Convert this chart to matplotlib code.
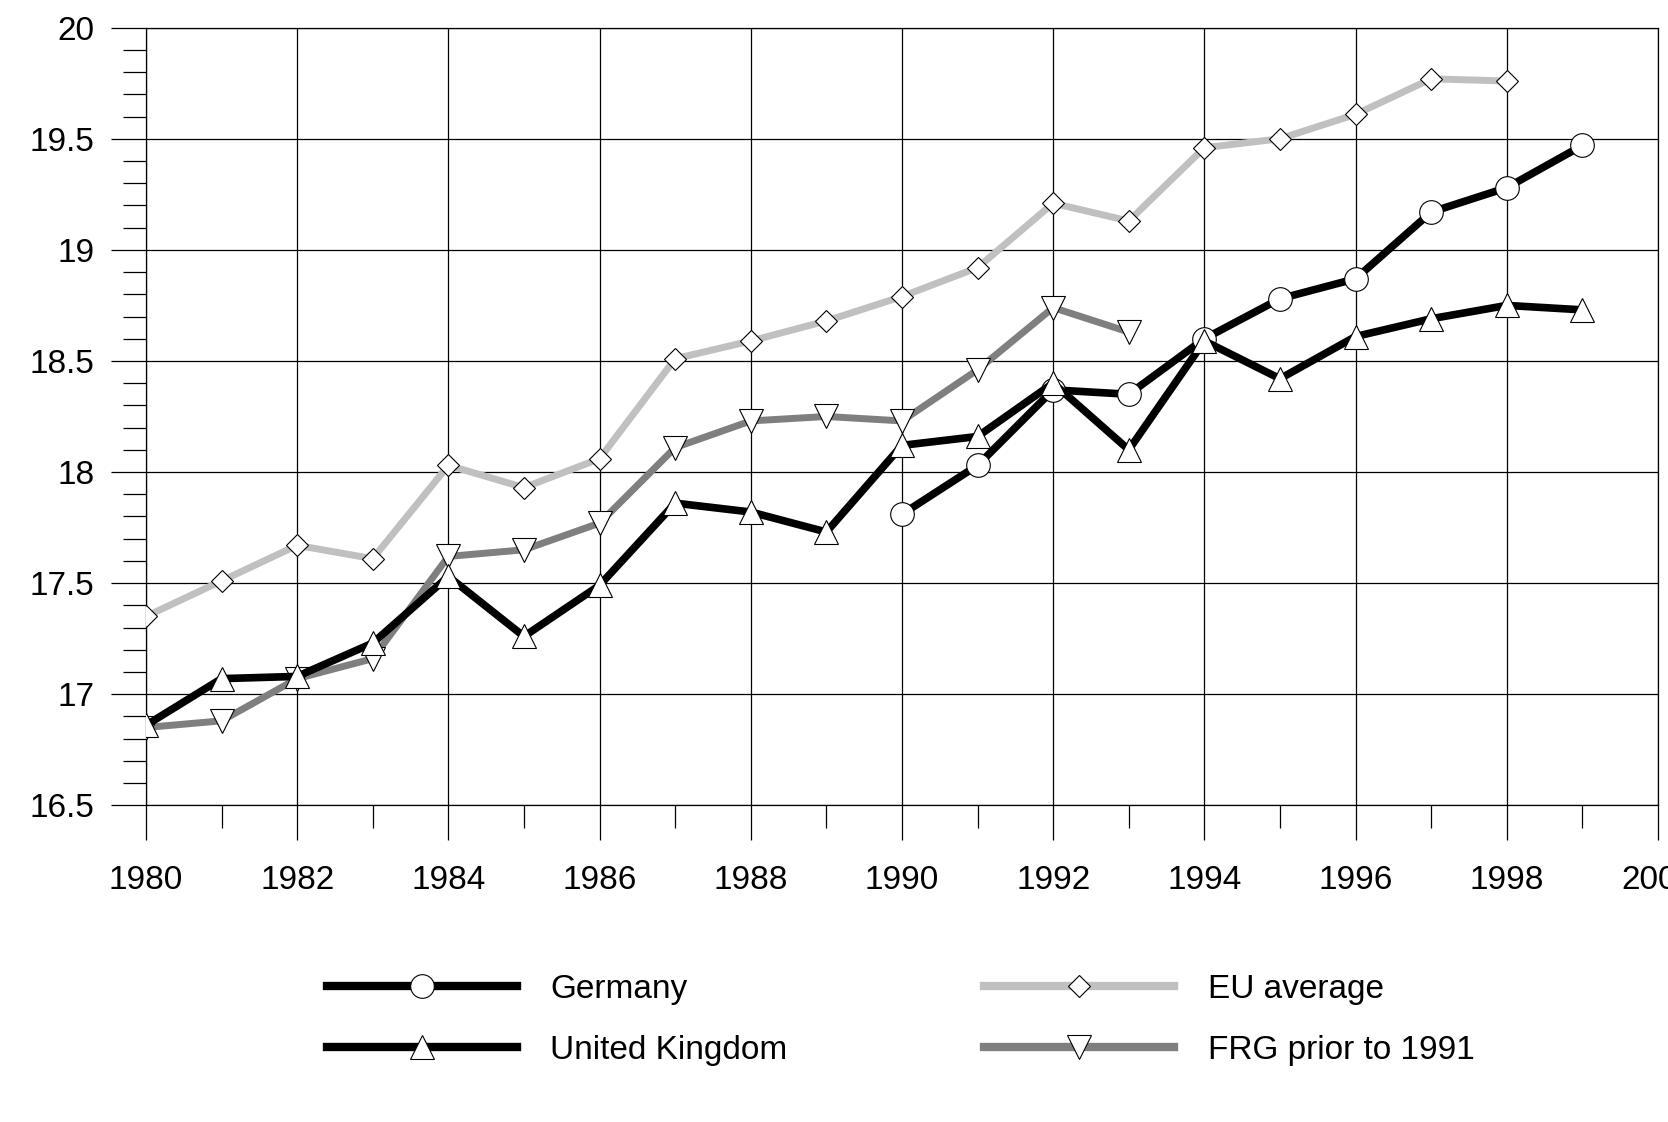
"""
Line chart: Germany, United Kingdom, EU average and FRG (1980-1999)
"""
import matplotlib
matplotlib.use("Agg")
import matplotlib.pyplot as plt
from matplotlib.ticker import MultipleLocator
from matplotlib.lines import Line2D

plt.rcParams["font.family"] = ["Liberation Sans", "DejaVu Sans"]

# data
years_germany = [1990, 1991, 1992, 1993, 1994, 1995, 1996, 1997, 1998, 1999]
germany = [17.81, 18.03, 18.37, 18.35, 18.60, 18.78, 18.87, 19.17, 19.28, 19.47]

years_uk = list(range(1980, 2000))
united_kingdom = [16.86, 17.07, 17.08, 17.23, 17.53, 17.26, 17.49, 17.86, 17.82, 17.73,
                  18.12, 18.16, 18.40, 18.10, 18.59, 18.42, 18.61, 18.69, 18.75, 18.73]

years_eu = list(range(1980, 1999))
eu_average = [17.35, 17.51, 17.67, 17.61, 18.03, 17.93, 18.06, 18.51, 18.59, 18.68,
              18.79, 18.92, 19.21, 19.13, 19.46, 19.50, 19.61, 19.77, 19.76]

years_frg = list(range(1980, 1994))
frg = [16.85, 16.88, 17.07, 17.16, 17.62, 17.65, 17.77, 18.11, 18.23, 18.25,
       18.23, 18.46, 18.74, 18.63]

labels = ["Germany", "United Kingdom", "EU average", "FRG prior to 1991"]

DPI = 100
fig = plt.figure(figsize=(16.68, 11.22), dpi=DPI)
ax = fig.add_axes([0.0875, 0.2823, 0.9065, 0.693])

marker_kw = dict(markerfacecolor="white", markeredgecolor="black", markeredgewidth=0.8)

# (color, linewidth, marker, markersize) per series
styles = {
    "Germany": ("black", 5.5, "o", 17),
    "United Kingdom": ("black", 5.5, "^", 17),
    "EU average": ("#c0c0c0", 5, "D", 11.5),
    "FRG prior to 1991": ("#7f7f7f", 5, "v", 17),
}

# draw order: EU, FRG, Germany, UK on top
for z, (name, xs, ys) in enumerate([
    ("EU average", years_eu, eu_average),
    ("FRG prior to 1991", years_frg, frg),
    ("Germany", years_germany, germany),
    ("United Kingdom", years_uk, united_kingdom),
]):
    color, lw, mk, ms = styles[name]
    ax.plot(xs, ys, color=color, lw=lw, marker=mk, markersize=ms, zorder=3 + z,
            **marker_kw)

ax.set_xlim(1980, 2000)
ax.set_ylim(16.5, 20)

ax.xaxis.set_major_locator(MultipleLocator(2))
ax.xaxis.set_minor_locator(MultipleLocator(1))
ax.yaxis.set_minor_locator(MultipleLocator(0.1))
ax.set_yticks([16.5, 17, 17.5, 18, 18.5, 19, 19.5, 20])
ax.set_yticklabels(["16.5", "17", "17.5", "18", "18.5", "19", "19.5", "20"])

ax.grid(True, which="major", color="black", lw=0.9)
ax.set_axisbelow(True)

ax.tick_params(axis="both", which="major", direction="out", length=25, width=0.9,
               labelsize=24, color="black")
ax.tick_params(axis="both", which="minor", direction="out", length=16.5, width=0.9)
ax.tick_params(axis="x", which="major", pad=18)
ax.tick_params(axis="y", which="major", pad=12)

for spine in ax.spines.values():
    spine.set_linewidth(0.9)
    spine.set_color("black")

# legend handles drawn a bit thicker, as in the reference
handles = []
for name in labels:
    color, lw, mk, ms = styles[name]
    handles.append(Line2D([], [], color=color, lw=6, marker=mk, markersize=ms, **marker_kw))

fig.legend(handles, labels, ncol=2, loc="center",
           bbox_to_anchor=(0.54, 0.091), frameon=False, fontsize=24,
           handlelength=5.7, handletextpad=1.0, columnspacing=5.9,
           labelspacing=0.9)

fig.savefig("out.png", dpi=DPI)
